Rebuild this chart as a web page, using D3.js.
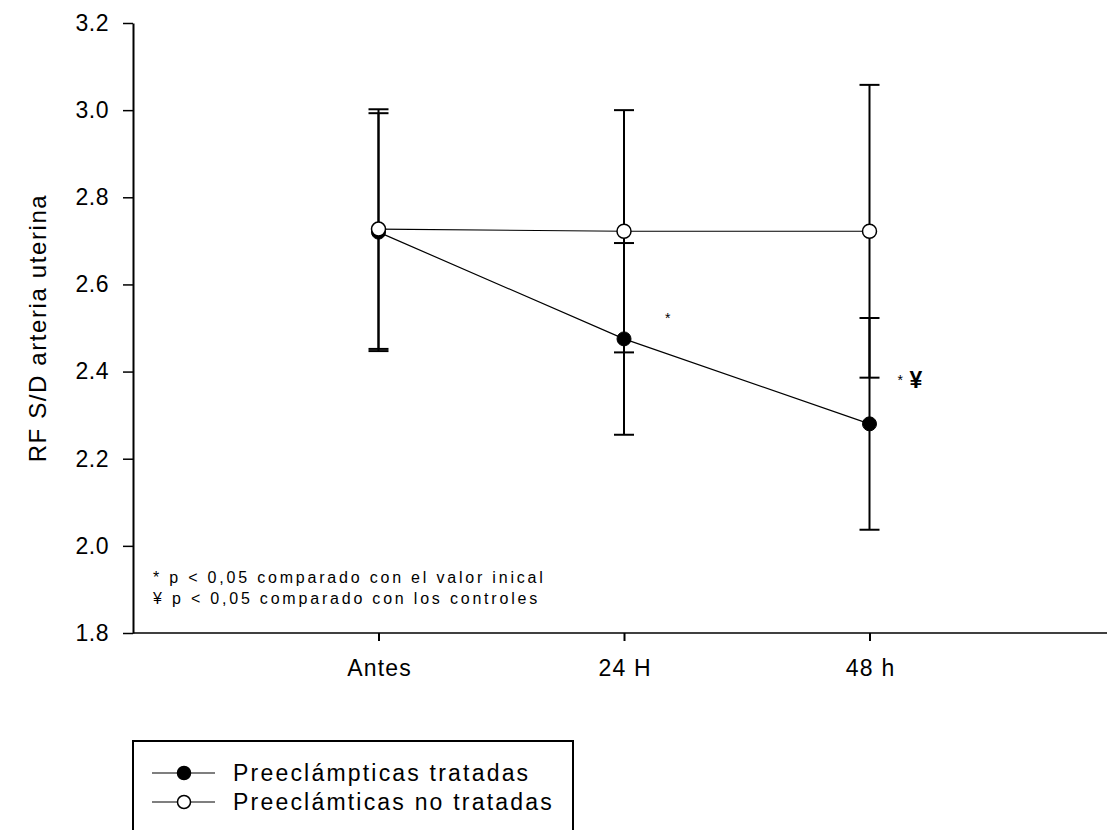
<!DOCTYPE html>
<html>
<head>
<meta charset="utf-8">
<script src="https://cdn.jsdelivr.net/npm/d3@7"></script>
<style>
  html, body { margin: 0; padding: 0; background: #fff; }
  svg { display: block; font-family: "Liberation Sans", Arial, sans-serif; }
</style>
</head>
<body>
<svg id="chart" width="1107" height="830"></svg>
<script>
// ---- data ----
const categories = ["Antes", "24 H", "48 h"];
const treatedMean = [2.720, 2.475, 2.280];
const treatedSD   = [0.273, 0.220, 0.243];
const untreatedMean = [2.727, 2.722, 2.722];
const untreatedSD   = [0.275, 0.278, 0.336];
const yTicks = [1.8, 2.0, 2.2, 2.4, 2.6, 2.8, 3.0, 3.2];
const seriesNames = ["Preeclámpticas tratadas", "Preeclámticas no tratadas"];
const yTitle = "RF S/D arteria uterina";
const noteLines = ["* p < 0,05 comparado con el valor inical", "¥ p < 0,05 comparado con los controles"];

const svg = d3.select("#chart");
const x = d3.scaleLinear().domain([-1, 3]).range([133, 1115]);
const y = d3.scaleLinear().domain([1.8, 3.2]).range([633, 23]);

// axes
const yAxis = d3.axisLeft(y).tickValues(yTicks).tickFormat(d3.format(".1f"))
  .tickSize(10).tickSizeOuter(0).tickPadding(14);
const gy = svg.append("g").attr("transform", "translate(133,0)").call(yAxis);
gy.attr("font-family", null).attr("font-size", null);
gy.select(".domain").attr("stroke", "#000").attr("stroke-width", 2);
gy.selectAll(".tick line").attr("stroke", "#000").attr("stroke-width", 1.5);
gy.selectAll(".tick text").attr("fill", "#000").style("font-size", "23px").style("letter-spacing", "0.5px");

const xAxis = d3.axisBottom(x).tickValues([0, 1, 2]).tickFormat(i => categories[i])
  .tickSize(8).tickSizeOuter(0).tickPadding(19);
const gx = svg.append("g").attr("transform", "translate(0,633)").call(xAxis);
gx.attr("font-family", null).attr("font-size", null);
gx.select(".domain").attr("stroke", "#000").attr("stroke-width", 1.5)
  .attr("d", `M133,0H1107`);
gx.selectAll(".tick line").attr("stroke", "#000").attr("stroke-width", 2);
gx.selectAll(".tick text").attr("fill", "#000").style("font-size", "23px")
  .style("letter-spacing", "1.2px").attr("dx", "0.6px");

// y title
svg.append("text")
  .attr("transform", `translate(46,${(23 + 633) / 2}) rotate(-90)`)
  .attr("text-anchor", "middle")
  .style("font-size", "24px").style("letter-spacing", "1.6px")
  .text(yTitle);

const idx = categories.map((c, i) => i);
const capW = 10;

function errorBars(means, sds, cls) {
  const g = svg.append("g").attr("class", cls);
  idx.forEach(i => {
    const hi = y(means[i] + sds[i]), lo = y(means[i] - sds[i]), cx = x(i);
    g.append("line").attr("x1", cx).attr("x2", cx).attr("y1", hi).attr("y2", lo)
      .attr("stroke", "#000").attr("stroke-width", 2);
    [hi, lo].forEach(yy => g.append("line")
      .attr("x1", cx - capW).attr("x2", cx + capW).attr("y1", yy).attr("y2", yy)
      .attr("stroke", "#000").attr("stroke-width", 2));
  });
}
errorBars(treatedMean, treatedSD, "eb-treated");
errorBars(untreatedMean, untreatedSD, "eb-untreated");

const line = d3.line().x(d => x(d[0])).y(d => y(d[1]));
svg.append("path").datum(idx.map(i => [i, treatedMean[i]]))
  .attr("d", line).attr("fill", "none").attr("stroke", "#000").attr("stroke-width", 1.2);
svg.append("path").datum(idx.map(i => [i, untreatedMean[i]]))
  .attr("d", line).attr("fill", "none").attr("stroke", "#000").attr("stroke-width", 1.2);

svg.append("g").selectAll("circle").data(idx).join("circle")
  .attr("cx", i => x(i)).attr("cy", i => y(treatedMean[i])).attr("r", 7)
  .attr("fill", "#000").attr("stroke", "#000").attr("stroke-width", 1);
svg.append("g").selectAll("circle").data(idx).join("circle")
  .attr("cx", i => x(i)).attr("cy", i => y(untreatedMean[i])).attr("r", 7)
  .attr("fill", "#fff").attr("stroke", "#000").attr("stroke-width", 1.5);

// significance marks
svg.append("text").attr("x", x(1) + 41).attr("y", y(2.511)).style("font-size", "14px").text("*");
svg.append("text").attr("x", x(2) + 28).attr("y", y(2.37)).style("font-size", "14px").text("*");
svg.append("text").attr("x", x(2) + 40).attr("y", y(2.362)).style("font-size", "23px")
  .style("font-weight", "bold").text("¥");

// notes
const notes = svg.append("g");
noteLines.forEach((t, k) => notes.append("text")
  .attr("x", 153).attr("y", 583 + k * 21)
  .style("font-size", "16px").style("letter-spacing", "2.8px").text(t));

// legend
const lg = svg.append("g");
lg.append("rect").attr("x", 133).attr("y", 741).attr("width", 440).attr("height", 120)
  .attr("fill", "#fff").attr("stroke", "#000").attr("stroke-width", 2);
[[0, "#000"], [1, "#fff"]].forEach(([k, fill]) => {
  const yy = 773 + k * 29;
  lg.append("line").attr("x1", 152).attr("x2", 215).attr("y1", yy).attr("y2", yy)
    .attr("stroke", "#000").attr("stroke-width", 1.2);
  lg.append("circle").attr("cx", 184).attr("cy", yy).attr("r", 6.5)
    .attr("fill", fill).attr("stroke", "#000").attr("stroke-width", 1.5);
  lg.append("text").attr("x", 233).attr("y", yy + 8).style("font-size", "23px")
    .style("letter-spacing", "2.2px").text(seriesNames[k]);
});
</script>
</body>
</html>
